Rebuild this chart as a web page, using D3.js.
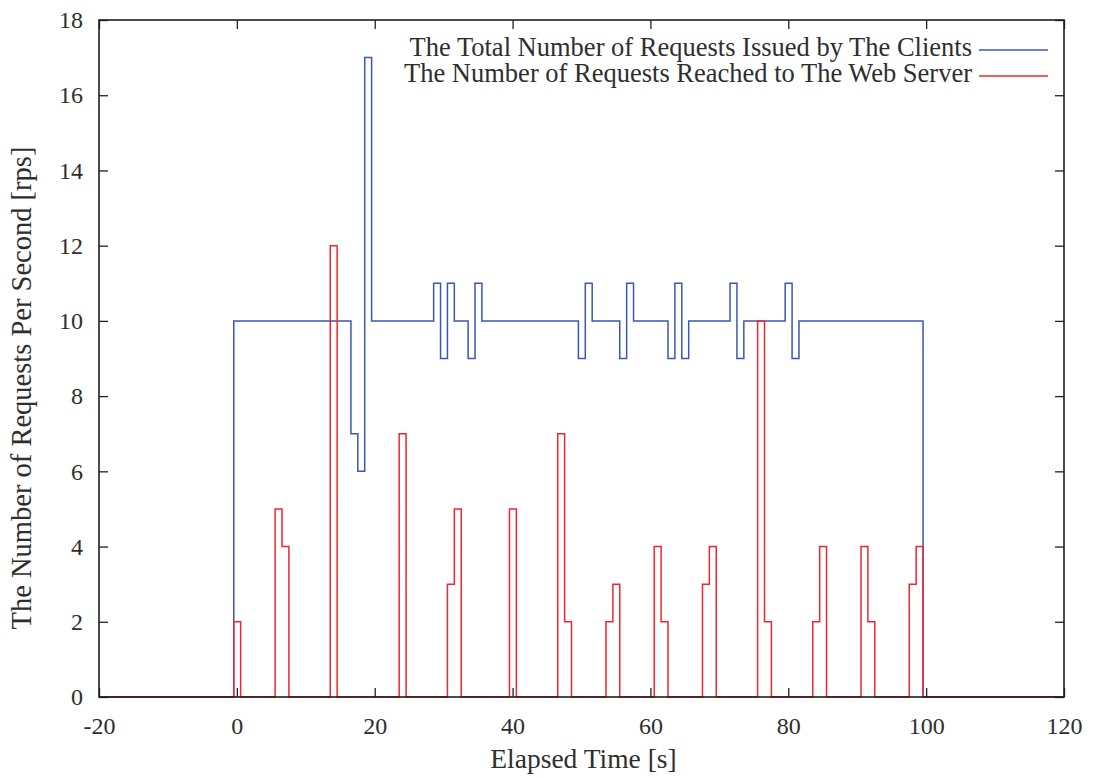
<!DOCTYPE html>
<html>
<head>
<meta charset="utf-8">
<script src="https://cdn.jsdelivr.net/npm/d3@7"></script>
<style>
  body { margin: 0; background: #fff; }
  text { font-family: "Liberation Serif", "DejaVu Serif", serif; fill: #2e2e2e; }
</style>
</head>
<body>
<svg id="chart"></svg>
<script>
// one value per second, seconds 0..99
const seconds = d3.range(0, 100);
const sampleOffset = 0.05; // samples were taken slightly after the full second

const issued = [
  10, 10, 10, 10, 10, 10, 10, 10, 10, 10,
  10, 10, 10, 10, 10, 10, 10, 7, 6, 17,
  10, 10, 10, 10, 10, 10, 10, 10, 10, 11,
  9, 11, 10, 10, 9, 11, 10, 10, 10, 10,
  10, 10, 10, 10, 10, 10, 10, 10, 10, 10,
  9, 11, 10, 10, 10, 10, 9, 11, 10, 10,
  10, 10, 10, 9, 11, 9, 10, 10, 10, 10,
  10, 10, 11, 9, 10, 10, 10, 10, 10, 10,
  11, 9, 10, 10, 10, 10, 10, 10, 10, 10,
  10, 10, 10, 10, 10, 10, 10, 10, 10, 10
];

const reached = [
  2, 0, 0, 0, 0, 0, 5, 4, 0, 0,
  0, 0, 0, 0, 12, 0, 0, 0, 0, 0,
  0, 0, 0, 0, 7, 0, 0, 0, 0, 0,
  0, 3, 5, 0, 0, 0, 0, 0, 0, 0,
  5, 0, 0, 0, 0, 0, 0, 7, 2, 0,
  0, 0, 0, 0, 2, 3, 0, 0, 0, 0,
  0, 4, 2, 0, 0, 0, 0, 0, 3, 4,
  0, 0, 0, 0, 0, 0, 10, 2, 0, 0,
  0, 0, 0, 0, 2, 4, 0, 0, 0, 0,
  0, 4, 2, 0, 0, 0, 0, 0, 3, 4
];

const xTicks = [-20, 0, 20, 40, 60, 80, 100, 120];
const yTicks = [0, 2, 4, 6, 8, 10, 12, 14, 16, 18];

const series = [
  { name: "The Total Number of Requests Issued by The Clients", values: issued, color: "#3b57b3" },
  { name: "The Number of Requests Reached to The Web Server", values: reached, color: "#f2262f" }
];

const width = 1094, height = 778;
const margin = { top: 20, right: 30, bottom: 81, left: 99 };
const chartWidth = width - margin.left - margin.right;
const chartHeight = height - margin.top - margin.bottom;

const x = d3.scaleLinear().domain([-20, 120]).range([0, chartWidth]);
const y = d3.scaleLinear().domain([0, 18]).range([chartHeight, 0]);

const svg = d3.select("#chart")
  .attr("width", width)
  .attr("height", height);

const container = svg.append("g")
  .attr("transform", `translate(${margin.left},${margin.top})`);

// histogram-like steps centred on each sample
const stepPoints = values => {
  const pts = [[x.domain()[0], 0]];
  values.forEach((v, i) => pts.push([seconds[i] + sampleOffset - 0.5, v]));
  pts.push([seconds[seconds.length - 1] + sampleOffset + 0.5, 0]);
  pts.push([x.domain()[1], 0]);
  return pts;
};

const line = d3.line()
  .x(d => x(d[0]))
  .y(d => y(d[1]))
  .curve(d3.curveStepAfter);

series.forEach(s => {
  container.append("path")
    .attr("d", line(stepPoints(s.values)))
    .attr("fill", "none")
    .attr("stroke", s.color)
    .attr("stroke-width", 1.5);
});

// ticks drawn inward on all four sides, gnuplot style
const tickLen = 9;
const plainNum = d => String(d); // keep the ascii hyphen for -20
const axisStyle = g => {
  g.select(".domain").remove();
  g.selectAll(".tick line").attr("stroke", "#222").attr("stroke-width", 1.3);
  g.selectAll(".tick text").style("font-size", "24px").attr("fill", "#2e2e2e");
};

container.append("g")
  .attr("transform", `translate(0,${chartHeight})`)
  .call(d3.axisBottom(x).tickValues(xTicks).tickSize(-tickLen).tickPadding(20).tickFormat(plainNum))
  .call(axisStyle);

container.append("g")
  .call(d3.axisTop(x).tickValues(xTicks).tickSize(-tickLen).tickFormat(""))
  .call(axisStyle);

container.append("g")
  .call(d3.axisLeft(y).tickValues(yTicks).tickSize(-tickLen).tickPadding(16).tickFormat(plainNum))
  .call(axisStyle);

container.append("g")
  .attr("transform", `translate(${chartWidth},0)`)
  .call(d3.axisRight(y).tickValues(yTicks).tickSize(-tickLen).tickFormat(""))
  .call(axisStyle);

container.append("rect")
  .attr("width", chartWidth)
  .attr("height", chartHeight)
  .attr("fill", "none")
  .attr("stroke", "#1e1e1e")
  .attr("stroke-width", 1.6);

// axis titles
svg.append("text")
  .attr("x", margin.left + chartWidth / 2 + 2)
  .attr("y", 768)
  .attr("text-anchor", "middle")
  .style("font-size", "27.5px")
  .text("Elapsed Time [s]");

svg.append("text")
  .attr("transform", "translate(31,388) rotate(-90)")
  .attr("text-anchor", "middle")
  .style("font-size", "28.5px")
  .text("The Number of Requests Per Second [rps]");

// legend, top right
const legend = container.append("g")
  .attr("transform", `translate(${chartWidth - 16},0)`);

series.forEach((s, i) => {
  const ly = 30 + i * 26;
  legend.append("line")
    .attr("x1", -69).attr("x2", 0)
    .attr("y1", ly).attr("y2", ly)
    .attr("stroke", s.color)
    .attr("stroke-width", 1.5);
  legend.append("text")
    .attr("x", -76)
    .attr("y", ly + 6)
    .attr("text-anchor", "end")
    .style("font-size", "26.5px")
    .text(s.name);
});
</script>
</body>
</html>
